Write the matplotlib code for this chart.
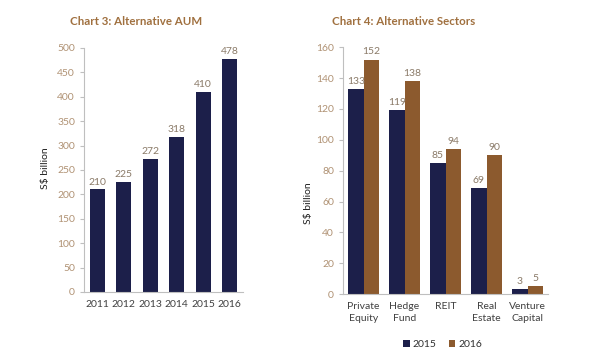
import matplotlib.pyplot as plt
import numpy as np

plt.rcParams['font.family'] = ['Lato', 'DejaVu Sans']

years = ["2011", "2012", "2013", "2014", "2015", "2016"]
aum = [210, 225, 272, 318, 410, 478]

sectors = ["Private\nEquity", "Hedge\nFund", "REIT", "Real\nEstate", "Venture\nCapital"]
s2015 = [133, 119, 85, 69, 3]
s2016 = [152, 138, 94, 90, 5]

navy = "#1c1f4a"
brown = "#8c5a2e"
title_col = "#a0703f"
tick_col = "#b09274"
lbl_col = "#8a7a68"
spine_col = "#bfbfbf"

fig = plt.figure(figsize=(6, 3.6), dpi=100)


def style(ax):
    for s in ["top", "right"]:
        ax.spines[s].set_visible(False)
    for s in ["left", "bottom"]:
        ax.spines[s].set_color(spine_col)
        ax.spines[s].set_linewidth(0.8)
    ax.tick_params(axis="y", colors=spine_col, labelcolor=tick_col, labelsize=7.5, length=3, width=0.8)
    ax.tick_params(axis="x", length=0, labelcolor="#404040", labelsize=7.5, pad=6)


# Chart 3
ax1 = fig.add_axes([0.14, 0.189, 0.265, 0.678])
x1 = np.arange(len(years))
ax1.bar(x1, aum, width=0.57, color=navy)
for xi, v in zip(x1, aum):
    ax1.text(xi, v + 6, str(v), ha="center", va="bottom", fontsize=7.5, color=lbl_col)
ax1.set_xlim(-0.5, len(years) - 0.5)
ax1.set_ylim(0, 500)
ax1.set_yticks(range(0, 501, 50))
ax1.set_xticks(x1)
ax1.set_xticklabels(years)
style(ax1)
ax1.set_ylabel("S$ billion", fontsize=7.5, color="#202020")
ax1.yaxis.set_label_coords(-0.214, 0.508)
fig.text(0.227, 0.94, "Chart 3: Alternative AUM", ha="center", va="center",
         fontsize=8.3, fontweight="bold", color=title_col)

# Chart 4
ax2 = fig.add_axes([0.5717, 0.183, 0.3417, 0.686])
x2 = np.arange(len(sectors))
w = 0.37
b1 = ax2.bar(x2 - w / 2, s2015, width=w, color=navy, label="2015")
b2 = ax2.bar(x2 + w / 2, s2016, width=w, color=brown, label="2016")
for xi, v in zip(x2, s2015):
    ax2.text(xi - w / 2, v + 2, str(v), ha="center", va="bottom", fontsize=7.5, color=lbl_col)
for xi, v in zip(x2, s2016):
    ax2.text(xi + w / 2, v + 2, str(v), ha="center", va="bottom", fontsize=7.5, color=lbl_col)
ax2.set_xlim(-0.5, len(sectors) - 0.5)
ax2.set_ylim(0, 160)
ax2.set_yticks(range(0, 161, 20))
ax2.set_xticks(x2)
ax2.set_xticklabels(sectors, linespacing=1.3)
style(ax2)
ax2.set_ylabel("S$ billion", fontsize=7.5, color="#202020")
ax2.yaxis.set_label_coords(-0.146, 0.368)
fig.text(0.673, 0.94, "Chart 4: Alternative Sectors", ha="center", va="center",
         fontsize=8.3, fontweight="bold", color=title_col)

fig.legend(handles=[b1, b2], loc="center", bbox_to_anchor=(0.738, 0.042), ncol=2,
           frameon=False, fontsize=7.5, handlelength=0.6, handleheight=0.6,
           handletextpad=0.3, columnspacing=1.2, labelcolor="#303030")

fig.savefig("out.png", dpi=100)
